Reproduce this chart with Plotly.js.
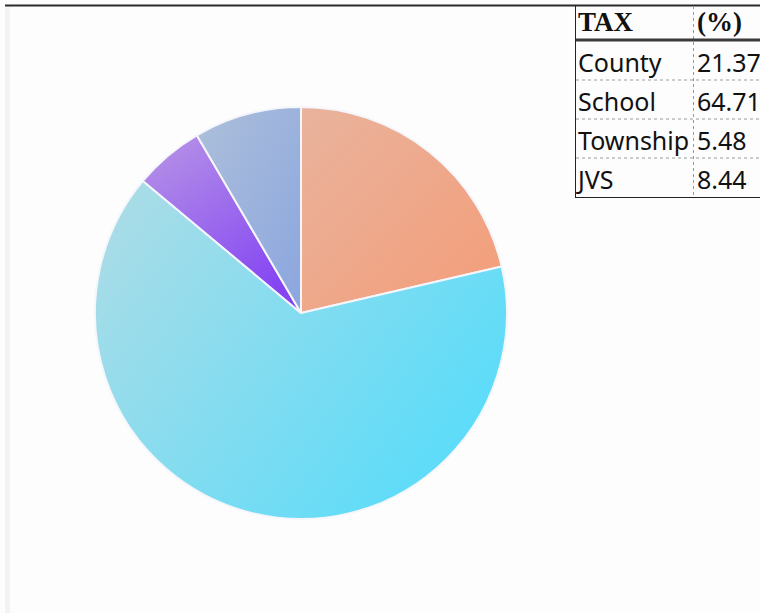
<!DOCTYPE html>
<html><head><meta charset="utf-8">
<script src="https://cdn.plot.ly/plotly-3.0.1.min.js"></script>
<style>html,body{margin:0;padding:0;background:#fff;}#chart{width:760px;height:613px;}</style>
</head><body><div id="chart"></div>
<script>
const categories = ["County", "School", "Township", "JVS"];
const taxPercent = [21.37, 64.71, 5.48, 8.44];
const tableHeader = ["<b>TAX</b>", "<b>(%)</b>"];
const tableValues = ["21.37", "64.71", "5.48", "8.44"];
const baseColors = ["#eea385", "#7fdcf2", "#a070ec", "#9db2dc"];
const gradients = [
  ["#e9b39d", "#f49d78", 0, 0, 1, 1],
  ["#a8dce7", "#55dcfb", 0, 0.2, 1, 0.8],
  ["#b896e6", "#8546f2", 0, 0, 0.6, 1],
  ["#adbfda", "#8ba6df", 0, 0, 1, 1]
];

const W = 760, H = 613;
const px = x => x / W, py = y => 1 - y / H;

const pie = {
  type: "pie", labels: categories, values: taxPercent, sort: false,
  direction: "clockwise", rotation: 0, textinfo: "none", hoverinfo: "label+percent",
  marker: { colors: baseColors, line: { color: "#f4f6fb", width: 2 } },
  domain: { x: [px(95), px(507)], y: [py(519), py(107)] }, showlegend: false
};
const table = {
  type: "table",
  domain: { x: [px(570), 1], y: [py(204), py(6)] },
  columnwidth: [119, 71],
  header: { values: tableHeader, align: "left", height: 34,
    font: { family: "Liberation Serif, serif", size: 27, color: "#111" },
    fill: { color: "rgba(0,0,0,0)" }, line: { width: 0, color: "rgba(0,0,0,0)" } },
  cells: { values: [categories, tableValues], align: "left", height: 39,
    font: { family: "Noto Sans, sans-serif", size: 25, color: "#111" },
    fill: { color: "rgba(0,0,0,0)" }, line: { width: 0, color: "rgba(0,0,0,0)" } }
};
const shapes = [];
const L = (x0, y0, x1, y1, color, width, dash) => shapes.push({ type: "line", xref: "paper", yref: "paper",
  x0: px(x0), y0: py(y0), x1: px(x1), y1: py(y1), line: { color, width, dash: dash || "solid" } });
// page frame
shapes.push({ type: "rect", xref: "paper", yref: "paper", x0: px(5), x1: px(10), y0: 0, y1: py(7),
  fillcolor: "#f3f3f3", line: { width: 0 }, layer: "below" });
L(5, 5.5, 760, 5.5, "#2a2a2a", 2);
// table grid
[80, 119, 158].forEach(y => L(576, y, 760, y, "#9a9a9a", 1, "dot"));
L(693.5, 6, 693.5, 197, "#9a9a9a", 1, "dot");
L(576, 40, 760, 40, "#3a3a3a", 3);
L(575.5, 6, 575.5, 197.5, "#222", 1);
L(575, 197.5, 760, 197.5, "#222", 1);

Plotly.newPlot("chart", [pie, table], {
  width: W, height: H, margin: { l: 0, r: 0, t: 0, b: 0 },
  paper_bgcolor: "#fdfdfd", plot_bgcolor: "#fdfdfd", shapes
}, { displayModeBar: false, staticPlot: true }).then(gd => {
  const svg = gd.querySelector("svg.main-svg");
  const ns = "http://www.w3.org/2000/svg";
  let defs = svg.querySelector("defs");
  gd.querySelectorAll("g.slice path.surface").forEach((p, i) => {
    const g = gradients[i];
    const lg = document.createElementNS(ns, "linearGradient");
    lg.setAttribute("id", "sliceGrad" + i);
    lg.setAttribute("x1", g[2]); lg.setAttribute("y1", g[3]);
    lg.setAttribute("x2", g[4]); lg.setAttribute("y2", g[5]);
    [[0, g[0]], [1, g[1]]].forEach(([o, c]) => {
      const s = document.createElementNS(ns, "stop");
      s.setAttribute("offset", o); s.setAttribute("stop-color", c);
      lg.appendChild(s);
    });
    defs.appendChild(lg);
    p.style.fill = "url(#sliceGrad" + i + ")";
  });
  // nudge the table text up to the reference's baseline positions
  const tl = gd.querySelector("g.table");
  if (tl) tl.setAttribute("transform", "translate(0,-7) " + (tl.getAttribute("transform") || ""));
});
</script></body></html>
